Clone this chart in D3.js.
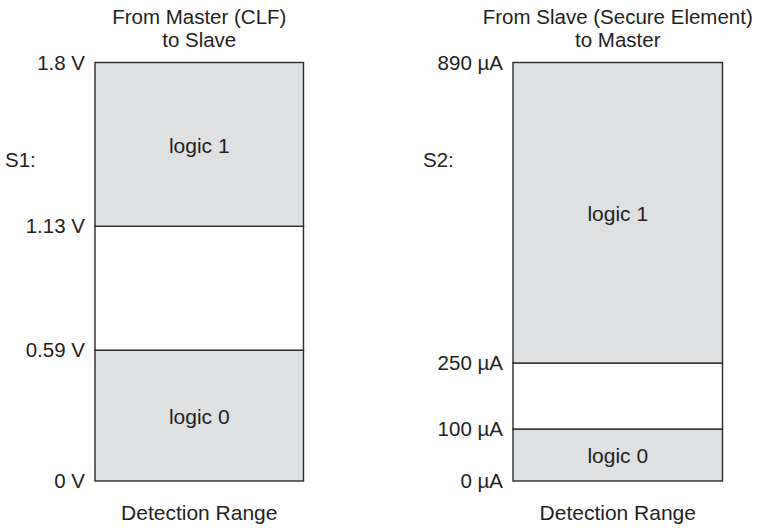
<!DOCTYPE html>
<html><head><meta charset="utf-8">
<script src="https://cdn.jsdelivr.net/npm/d3@7"></script>
<style>body{margin:0;background:#fff}svg{display:block}text{font-family:"Liberation Sans",Arial,sans-serif;fill:#231f20}</style>
</head><body><svg id="c" width="761" height="528"></svg>
<script>
// Panel 1: Master -> Slave (voltage)
const p1Title = ["From Master (CLF)", "to Slave"];
const p1Signal = "S1:";
const p1Levels = [0, 0.59, 1.13, 1.8];
const p1TickLabels = ["0 V", "0.59 V", "1.13 V", "1.8 V"];
const p1Bands = [
  {from: 0, to: 0.59, label: "logic 0", fill: true},
  {from: 0.59, to: 1.13, label: "", fill: false},
  {from: 1.13, to: 1.8, label: "logic 1", fill: true}
];
// Panel 2: Slave -> Master (current)
const p2Title = ["From Slave (Secure Element)", "to Master"];
const p2Signal = "S2:";
const p2Levels = [0, 100, 250, 890];
const p2TickLabels = ["0 \u00b5A", "100 \u00b5A", "250 \u00b5A", "890 \u00b5A"];
const p2Bands = [
  {from: 0, to: 100, label: "logic 0", fill: true},
  {from: 100, to: 250, label: "", fill: false},
  {from: 250, to: 890, label: "logic 1", fill: true}
];
const xLabel = "Detection Range";

const svg = d3.select("#c");
const plotTop = 62.5, plotBottom = 481;
const plotH = plotBottom - plotTop;

function panel(cfg) {
  const g = svg.append("g");
  // schematic (non-proportional) level positions as fractions of height
  const y = d3.scaleLinear().domain(cfg.levels).range(cfg.frac.map(f => plotBottom - f * plotH));
  const x = d3.scaleLinear().domain([0, 1]).range([cfg.x0, cfg.x1]);
  const cx = (cfg.x0 + cfg.x1) / 2;
  g.selectAll("rect.band").data(cfg.bands).join("rect")
    .attr("x", x(0)).attr("width", x(1) - x(0))
    .attr("y", d => y(d.to)).attr("height", d => y(d.from) - y(d.to))
    .attr("fill", d => d.fill ? "#dfe0e2" : "#fff")
    .attr("stroke", "#2b2b2b").attr("stroke-width", 1.4);
  g.selectAll("text.band").data(cfg.bands.filter(d => d.label)).join("text")
    .attr("x", cx).attr("y", d => (y(d.from) + y(d.to)) / 2 + 1).attr("dy", "0.35em")
    .attr("text-anchor", "middle").attr("font-size", 21).text(d => d.label);
  const ax = d3.axisLeft(y).tickValues(cfg.levels).tickFormat((d, i) => cfg.ticks[i]).tickSize(0).tickPadding(10);
  const a = g.append("g").attr("transform", `translate(${x(0)},0)`).call(ax);
  a.select(".domain").remove();
  a.selectAll("text").attr("font-size", 20.5).attr("font-family", '"Liberation Sans",Arial,sans-serif').attr("fill", "#231f20");
  g.selectAll("text.title").data(cfg.title).join("text")
    .attr("x", cx).attr("y", (d, i) => 23.5 + i * 23).attr("text-anchor", "middle").attr("font-size", 20.5).text(d => d);
  g.append("text").attr("x", cfg.sx).attr("y", 167).attr("font-size", 20.5).text(cfg.signal);
  g.append("text").attr("x", cx).attr("y", 520).attr("text-anchor", "middle").attr("font-size", 21).text(xLabel);
}

panel({levels: p1Levels, ticks: p1TickLabels, bands: p1Bands, title: p1Title, signal: p1Signal,
  frac: [0, 0.3126, 0.6087, 1], x0: 95, x1: 303.5, sx: 5});
panel({levels: p2Levels, ticks: p2TickLabels, bands: p2Bands, title: p2Title, signal: p2Signal,
  frac: [0, 0.1242, 0.2819, 1], x0: 513, x1: 722.5, sx: 423});
</script></body></html>
